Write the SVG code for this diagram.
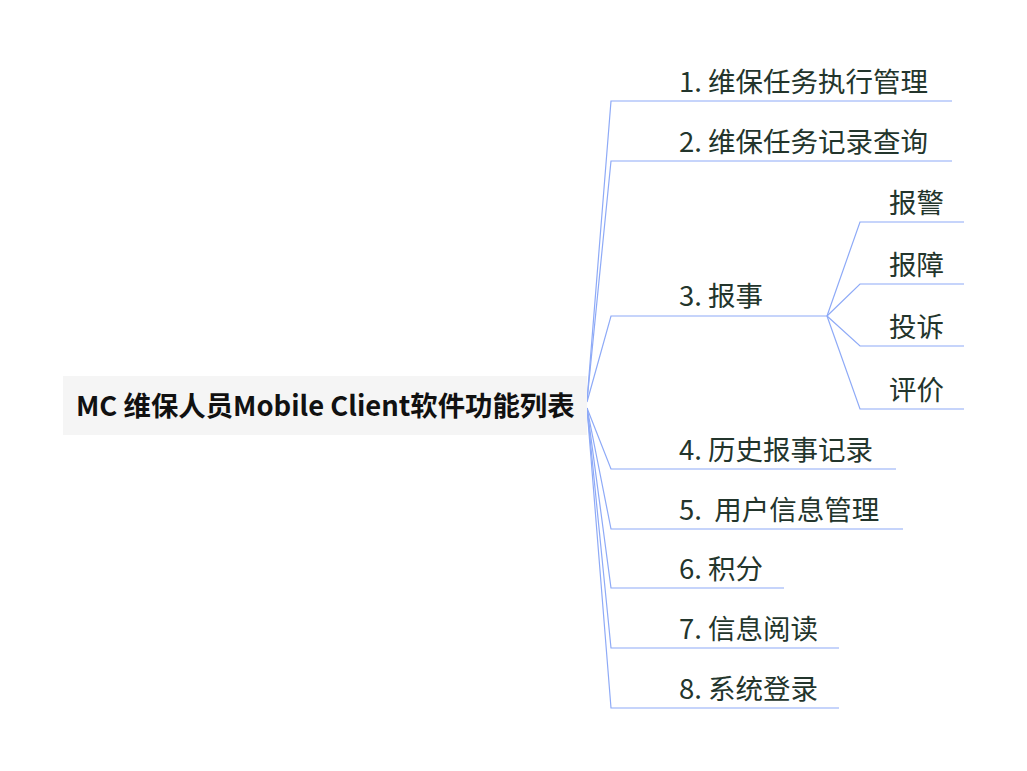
<svg xmlns="http://www.w3.org/2000/svg" width="1027" height="771" viewBox="0 0 1027 771">
<style>
.c{fill:none;stroke:#8eaaf7;stroke-width:1.2}
.t{font-family:"Noto Sans CJK SC","Liberation Sans",sans-serif;font-size:27.5px;fill:#23352c}
.r{font-family:"Noto Sans CJK SC","Liberation Sans",sans-serif;font-size:27.4px;font-weight:bold;fill:#111}
</style>
<rect width="1027" height="771" fill="#fff"/>
<g id="connectors">
<path class="c" d="M587,401 L611,101 H952"/>
<path class="c" d="M587,401 L611,161 H952"/>
<path class="c" d="M587,402 L611,316 H827"/>
<path class="c" d="M587,408 L611,469 H896"/>
<path class="c" d="M587,408 L611,529 H903"/>
<path class="c" d="M587,408 L611,588 H784"/>
<path class="c" d="M587,408 L611,648 H839"/>
<path class="c" d="M587,408 L611,708 H839"/>
<path class="c" d="M827,316 L860,222 H964"/>
<path class="c" d="M827,316 L860,284 H964"/>
<path class="c" d="M827,316 L860,346 H964"/>
<path class="c" d="M827,316 L860,409 H964"/>
</g>
<g id="root">
<rect x="63" y="376" width="524" height="59" fill="#f5f5f5"/>
<text class="r" x="76" y="416">MC 维保人员Mobile Client软件功能列表</text>
</g>
<g id="n1"><text class="t" x="679" y="92">1. 维保任务执行管理</text></g>
<g id="n2"><text class="t" x="679" y="152">2. 维保任务记录查询</text></g>
<g id="n3"><text class="t" x="679" y="306">3. 报事</text></g>
<g id="n3a"><text class="t" x="889" y="213">报警</text></g>
<g id="n3b"><text class="t" x="889" y="275">报障</text></g>
<g id="n3c"><text class="t" x="889" y="337">投诉</text></g>
<g id="n3d"><text class="t" x="889" y="400">评价</text></g>
<g id="n4"><text class="t" x="679" y="460">4. 历史报事记录</text></g>
<g id="n5"><text class="t" x="679" y="520" xml:space="preserve">5.  用户信息管理</text></g>
<g id="n6"><text class="t" x="679" y="579">6. 积分</text></g>
<g id="n7"><text class="t" x="679" y="639">7. 信息阅读</text></g>
<g id="n8"><text class="t" x="679" y="699">8. 系统登录</text></g>
</svg>
